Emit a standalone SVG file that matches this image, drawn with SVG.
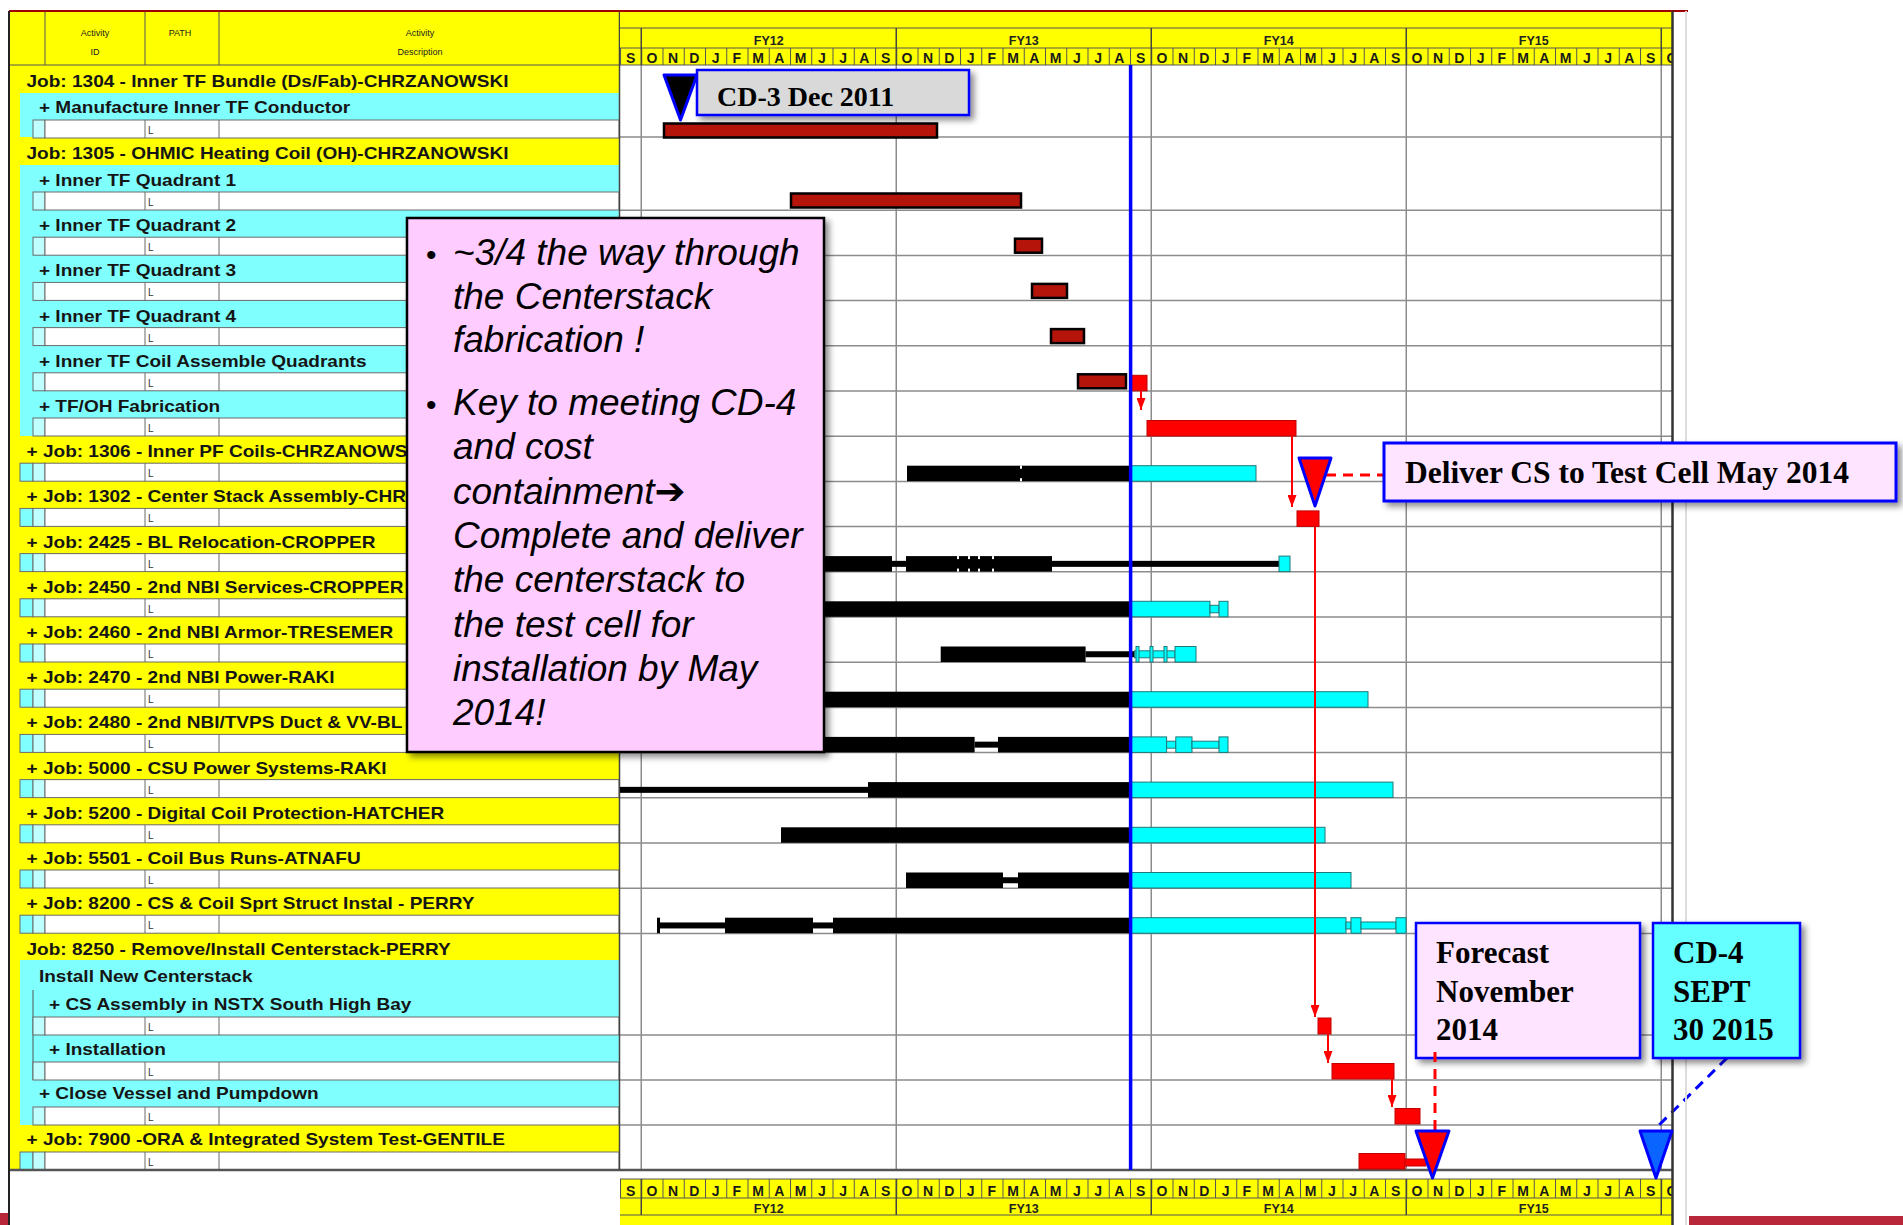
<svg xmlns="http://www.w3.org/2000/svg" width="1903" height="1225" viewBox="0 0 1903 1225">
<defs>
<style>
.lt{font-family:"Liberation Sans",Arial,sans-serif;font-weight:bold;font-size:17px;fill:#151515;transform:scaleX(1.12)}
.hd{font-family:"Liberation Sans",Arial,sans-serif;font-size:9px;fill:#222;text-anchor:middle}
.mo{font-family:"Liberation Sans",Arial,sans-serif;font-weight:bold;font-size:14px;fill:#1a1a1a;text-anchor:middle}
.fy{font-family:"Liberation Sans",Arial,sans-serif;font-weight:bold;font-size:12.5px;fill:#222;text-anchor:middle}
.L{font-family:"Liberation Sans",Arial,sans-serif;font-size:10px;fill:#333}
.sub{fill:#fff;stroke:#6b6b6b;stroke-width:1}
.cyl{fill:#80ffff}
.grid{stroke:#8c8c8c;stroke-width:1.5;fill:none}
.dk{fill:#b5140b;stroke:#000;stroke-width:2.5}
.rd{fill:#ff0000;stroke:#c00000;stroke-width:1}
.bk{fill:#000}
.cy{fill:#00ffff;stroke:#227777;stroke-width:1}
.arr{stroke:#ff0000;stroke-width:2;fill:none;marker-end:url(#ah)}
.call{font-family:"Liberation Serif","Times New Roman",serif;font-weight:bold;fill:#000}
.note{font-family:"Liberation Sans",Arial,"DejaVu Sans",sans-serif;font-style:italic;font-size:37px;fill:#000}
.hl{stroke:#555;stroke-width:1;fill:none}
</style>
<marker id="ah" markerWidth="12" markerHeight="9" refX="12" refY="4.5" orient="auto" markerUnits="userSpaceOnUse"><path d="M0,0 L12,4.5 L0,9 z" fill="#ff0000"/></marker>
<filter id="sh" x="-10%" y="-10%" width="130%" height="140%"><feDropShadow dx="4" dy="4" stdDeviation="3" flood-color="#000" flood-opacity="0.45"/></filter>
<pattern id="mdiv" patternUnits="userSpaceOnUse" x="620" y="0" width="21.25" height="10"><rect x="0" y="0" width="1" height="10" fill="#555"/></pattern>
<clipPath id="hc"><rect x="620" y="0" width="1052" height="1225"/></clipPath>
<g id="sr"><rect x="33" y="0" width="12" height="18" fill="#bfffff" stroke="#6b6b6b" stroke-width="1"/><rect x="45" y="0" width="574" height="18" class="sub"/><path d="M145,0V18M219,0V18" stroke="#6b6b6b"/><text x="148" y="14" class="L">L</text></g>
<g id="srj"><rect x="20" y="0" width="13" height="18" fill="#80ffff" stroke="#6b6b6b" stroke-width="1"/><use href="#sr"/></g>
</defs>
<rect x="0" y="0" width="1903" height="1225" fill="#fff"/>

<!-- left table background and header -->
<g id="table-header">
<rect x="9" y="12" width="610" height="1158" fill="#ffff00"/>
<path d="M45,12V65M145,12V65M219,12V65M9,65H619" class="hl"/>
<text x="95" y="36" class="hd">Activity</text>
<text x="95" y="55" class="hd">ID</text>
<text x="180" y="36" class="hd">PATH</text>
<text x="420" y="36" class="hd">Activity</text>
<text x="420" y="55" class="hd">Description</text>
</g>

<g id="n1304">
<text x="23.7" y="87" class="lt">Job: 1304 - Inner TF Bundle (Ds/Fab)-CHRZANOWSKI</text>
</g>
<g id="n-manufacture">
<rect x="20" y="93" width="599" height="44" class="cyl"/>
<use href="#sr" transform="translate(0,120)"/>
<text x="34.8" y="113" class="lt">+ Manufacture Inner TF Conductor</text>
</g>
<g id="n1305">
<text x="23.7" y="159" class="lt">Job: 1305 - OHMIC Heating Coil (OH)-CHRZANOWSKI</text>
<rect x="20" y="165" width="599" height="271" class="cyl"/>
</g>
<g id="n-q1"><use href="#sr" transform="translate(0,192)"/><text x="34.8" y="186" class="lt">+ Inner TF Quadrant 1</text></g>
<g id="n-q2"><use href="#sr" transform="translate(0,237.2)"/><text x="34.8" y="231.2" class="lt">+ Inner TF Quadrant 2</text></g>
<g id="n-q3"><use href="#sr" transform="translate(0,282.4)"/><text x="34.8" y="276.4" class="lt">+ Inner TF Quadrant 3</text></g>
<g id="n-q4"><use href="#sr" transform="translate(0,327.6)"/><text x="34.8" y="321.6" class="lt">+ Inner TF Quadrant 4</text></g>
<g id="n-coil"><use href="#sr" transform="translate(0,372.8)"/><text x="34.8" y="366.8" class="lt">+ Inner TF Coil Assemble Quadrants</text></g>
<g id="n-tfoh"><use href="#sr" transform="translate(0,418)"/><text x="34.8" y="412" class="lt">+ TF/OH Fabrication</text></g>
<g id="n1306"><use href="#srj" transform="translate(0,463.2)"/><text x="23.7" y="457.2" class="lt">+ Job: 1306 - Inner PF Coils-CHRZANOWS</text></g>
<g id="n1302"><use href="#srj" transform="translate(0,508.4)"/><text x="23.7" y="502.4" class="lt">+ Job: 1302 - Center Stack Assembly-CHR</text></g>
<g id="n2425"><use href="#srj" transform="translate(0,553.6)"/><text x="23.7" y="547.6" class="lt">+ Job: 2425 - BL Relocation-CROPPER</text></g>
<g id="n2450"><use href="#srj" transform="translate(0,598.8)"/><text x="23.7" y="592.8" class="lt">+ Job: 2450 - 2nd NBI Services-CROPPER</text></g>
<g id="n2460"><use href="#srj" transform="translate(0,644)"/><text x="23.7" y="638" class="lt">+ Job: 2460 - 2nd NBI Armor-TRESEMER</text></g>
<g id="n2470"><use href="#srj" transform="translate(0,689.2)"/><text x="23.7" y="683.2" class="lt">+ Job: 2470 - 2nd NBI Power-RAKI</text></g>
<g id="n2480"><use href="#srj" transform="translate(0,734.4)"/><text x="23.7" y="728.4" class="lt">+ Job: 2480 - 2nd NBI/TVPS Duct &amp; VV-BL</text></g>
<g id="n5000"><use href="#srj" transform="translate(0,779.6)"/><text x="23.7" y="773.6" class="lt">+ Job: 5000 - CSU Power Systems-RAKI</text></g>
<g id="n5200"><use href="#srj" transform="translate(0,824.8)"/><text x="23.7" y="818.8" class="lt">+ Job: 5200 - Digital Coil Protection-HATCHER</text></g>
<g id="n5501"><use href="#srj" transform="translate(0,870)"/><text x="23.7" y="864" class="lt">+ Job: 5501 - Coil Bus Runs-ATNAFU</text></g>
<g id="n8200"><use href="#srj" transform="translate(0,915.2)"/><text x="23.7" y="909.2" class="lt">+ Job: 8200 - CS &amp; Coil Sprt Struct Instal - PERRY</text></g>
<g id="n8250">
<text x="23.7" y="955" class="lt">Job: 8250 - Remove/Install Centerstack-PERRY</text>
<rect x="20" y="960" width="599" height="165" class="cyl"/>
<path d="M33,990V1080" class="hl"/>
</g>
<g id="n-installnew"><text x="34.8" y="982" class="lt">Install New Centerstack</text></g>
<g id="n-csassembly"><use href="#sr" transform="translate(0,1017)"/><text x="43.75" y="1010" class="lt">+ CS Assembly in NSTX South High Bay</text></g>
<g id="n-installation"><use href="#sr" transform="translate(0,1062)"/><text x="43.75" y="1055" class="lt">+ Installation</text></g>
<g id="n-closevessel"><use href="#sr" transform="translate(0,1107)"/><text x="34.8" y="1099" class="lt">+ Close Vessel and Pumpdown</text></g>
<g id="n7900"><use href="#srj" transform="translate(0,1152)"/><text x="23.7" y="1145" class="lt">+ Job: 7900 -ORA &amp; Integrated System Test-GENTILE</text></g>

<!-- chart body -->
<g id="chart-body">
<rect x="620" y="65" width="1052" height="1105" fill="#fff"/>
<path class="grid" d="M641.25,65V1170M896.25,65V1170M1151.25,65V1170M1406.25,65V1170M1661.25,65V1170"/>
<path class="grid" d="M620,137H1672M620,210.2H1672M620,255.4H1672M620,300.6H1672M620,345.8H1672M620,391H1672M620,436.2H1672M620,481.4H1672M620,526.6H1672M620,571.8H1672M620,617H1672M620,662.2H1672M620,707.4H1672M620,752.6H1672M620,797.8H1672M620,843H1672M620,888.2H1672M620,933.4H1672M620,1035H1672M620,1080H1672M620,1125H1672"/>
<path d="M9,1170H1672" stroke="#555" stroke-width="2.5"/>
<path d="M619.5,12V1170" stroke="#444" stroke-width="1.5"/>
</g>

<!-- timescale headers -->
<g id="top-scale" clip-path="url(#hc)">
<rect x="620" y="12" width="1052" height="53" fill="#ffff00"/>
<rect x="620" y="48" width="1052" height="17" fill="url(#mdiv)"/>
<path d="M620,28H1672M620,48H1672M620,65H1672" class="hl"/>
<path d="M641.25,28V65M896.25,28V65M1151.25,28V65M1406.25,28V65M1661.25,28V65" stroke="#444" stroke-width="1.5"/>
<text class="fy" x="768.75" y="45">FY12</text><text class="fy" x="1023.75" y="45">FY13</text><text class="fy" x="1278.75" y="45">FY14</text><text class="fy" x="1533.75" y="45">FY15</text>
<text class="mo" y="63" x="630.6 651.9 673.1 694.4 715.6 736.9 758.1 779.4 800.6 821.9 843.1 864.4 885.6 906.9 928.1 949.4 970.6 991.9 1013.1 1034.4 1055.6 1076.9 1098.1 1119.4 1140.6 1161.9 1183.1 1204.4 1225.6 1246.9 1268.1 1289.4 1310.6 1331.9 1353.1 1374.4 1395.6 1416.9 1438.1 1459.4 1480.6 1501.9 1523.1 1544.4 1565.6 1586.9 1608.1 1629.4 1650.6 1671.9">SONDJFMAMJJASONDJFMAMJJASONDJFMAMJJASONDJFMAMJJASO</text>
</g>
<g id="bottom-scale" clip-path="url(#hc)">
<rect x="620" y="1179" width="1052" height="46" fill="#ffff00"/>
<rect x="620" y="1179" width="1052" height="19" fill="url(#mdiv)"/>
<path d="M620,1179H1672M620,1198H1672M620,1215H1672" class="hl"/>
<path d="M641.25,1179V1215M896.25,1179V1215M1151.25,1179V1215M1406.25,1179V1215M1661.25,1179V1215" stroke="#444" stroke-width="1.5"/>
<text class="mo" y="1196" x="630.6 651.9 673.1 694.4 715.6 736.9 758.1 779.4 800.6 821.9 843.1 864.4 885.6 906.9 928.1 949.4 970.6 991.9 1013.1 1034.4 1055.6 1076.9 1098.1 1119.4 1140.6 1161.9 1183.1 1204.4 1225.6 1246.9 1268.1 1289.4 1310.6 1331.9 1353.1 1374.4 1395.6 1416.9 1438.1 1459.4 1480.6 1501.9 1523.1 1544.4 1565.6 1586.9 1608.1 1629.4 1650.6 1671.9">SONDJFMAMJJASONDJFMAMJJASONDJFMAMJJASONDJFMAMJJASO</text>
<text class="fy" x="768.75" y="1213">FY12</text><text class="fy" x="1023.75" y="1213">FY13</text><text class="fy" x="1278.75" y="1213">FY14</text><text class="fy" x="1533.75" y="1213">FY15</text>
</g>

<!-- bars -->
<g id="bars">
<rect class="dk" x="664" y="123.5" width="273" height="14"/>
<rect class="dk" x="791" y="193.5" width="230" height="14"/>
<rect class="dk" x="1015" y="238.7" width="27" height="14"/>
<rect class="dk" x="1032" y="283.9" width="35" height="14"/>
<rect class="dk" x="1051" y="329.1" width="33" height="14"/>
<rect class="dk" x="1078" y="374.3" width="48" height="14"/>
<rect class="rd" x="1130.5" y="375.3" width="16.5" height="15.5"/>
<rect class="rd" x="1147" y="420.5" width="149" height="15.5"/>
<rect class="rd" x="1297" y="510.9" width="22" height="15.5"/>
<rect class="rd" x="1318" y="1018" width="13" height="16"/>
<rect class="rd" x="1332" y="1063.5" width="62" height="15.5"/>
<rect class="rd" x="1395" y="1108.5" width="25" height="15.5"/>
<rect class="rd" x="1359" y="1153.5" width="46" height="15.5"/>
<rect class="rd" x="1405" y="1159" width="21" height="7"/>
<!-- 1306 -->
<rect class="bk" x="907" y="465.7" width="223.6" height="15.5"/>
<rect fill="#fff" x="1020" y="465.7" width="2" height="3"/><rect fill="#fff" x="1020" y="478.2" width="2" height="3"/>
<rect class="cy" x="1130.6" y="465.7" width="125.4" height="15.5"/>
<!-- 2425 -->
<rect class="bk" x="800" y="556.1" width="92" height="15.5"/>
<rect class="bk" x="892" y="560.85" width="14" height="6"/>
<rect class="bk" x="906" y="556.1" width="146" height="15.5"/>
<rect fill="#fff" x="957" y="556.1" width="2" height="3"/><rect fill="#fff" x="957" y="568.6" width="2" height="3"/>
<rect fill="#fff" x="968" y="556.1" width="2" height="3"/><rect fill="#fff" x="968" y="568.6" width="2" height="3"/>
<rect fill="#fff" x="978" y="556.1" width="2" height="3"/><rect fill="#fff" x="978" y="568.6" width="2" height="3"/>
<rect fill="#fff" x="992" y="556.1" width="2" height="3"/><rect fill="#fff" x="992" y="568.6" width="2" height="3"/>
<rect class="bk" x="1052" y="560.85" width="227" height="6"/>
<rect class="cy" x="1279" y="556.1" width="11" height="15.5"/>
<!-- 2450 -->
<rect class="bk" x="800" y="601.3" width="330.6" height="15.5"/>
<rect class="cy" x="1130.6" y="601.3" width="79.4" height="15.5"/>
<rect class="cy" x="1210" y="605.3" width="9" height="7.5"/>
<rect class="cy" x="1219" y="601.3" width="9" height="15.5"/>
<!-- 2460 -->
<rect class="bk" x="940.7" y="646.5" width="144.9" height="15.5"/>
<rect class="bk" x="1085.6" y="651.25" width="48.9" height="6"/>
<rect class="cy" x="1134.5" y="650.8" width="40.5" height="7"/>
<rect class="cy" x="1136" y="646.5" width="3" height="15.5"/><rect class="cy" x="1150" y="646.5" width="3" height="15.5"/><rect class="cy" x="1164" y="646.5" width="3" height="15.5"/>
<rect class="cy" x="1175" y="646.5" width="21" height="15.5"/>
<!-- 2470 -->
<rect class="bk" x="800" y="691.7" width="330.6" height="15.5"/>
<rect class="cy" x="1130.6" y="691.7" width="237.4" height="15.5"/>
<!-- 2480 -->
<rect class="bk" x="800" y="736.9" width="174.6" height="15.5"/>
<rect class="bk" x="974.6" y="741.65" width="23.4" height="6"/>
<rect class="bk" x="998" y="736.9" width="132.6" height="15.5"/>
<rect class="cy" x="1130.6" y="736.9" width="36" height="15.5"/>
<rect class="cy" x="1166.6" y="741.2" width="9.2" height="7"/>
<rect class="cy" x="1175.8" y="736.9" width="16.2" height="15.5"/>
<rect class="cy" x="1192" y="741.2" width="27" height="7"/>
<rect class="cy" x="1219" y="736.9" width="9" height="15.5"/>
<!-- 5000 -->
<rect class="bk" x="620" y="786.85" width="248" height="6"/>
<rect class="bk" x="868" y="782.1" width="262.6" height="15.5"/>
<rect class="cy" x="1130.6" y="782.1" width="262.4" height="15.5"/>
<!-- 5200 -->
<rect class="bk" x="781" y="827.3" width="349.6" height="15.5"/>
<rect class="cy" x="1130.6" y="827.3" width="194.4" height="15.5"/>
<!-- 5501 -->
<rect class="bk" x="906" y="872.5" width="97" height="15.5"/>
<rect class="bk" x="1003" y="877.25" width="15" height="6"/>
<rect class="bk" x="1018" y="872.5" width="112.6" height="15.5"/>
<rect class="cy" x="1130.6" y="872.5" width="220.4" height="15.5"/>
<!-- 8200 -->
<rect class="bk" x="657" y="917.7" width="3" height="15.5"/>
<rect class="bk" x="657" y="922.45" width="68" height="6"/>
<rect class="bk" x="725" y="917.7" width="88" height="15.5"/>
<rect class="bk" x="813" y="922.45" width="20" height="6"/>
<rect class="bk" x="833" y="917.7" width="297.6" height="15.5"/>
<rect class="cy" x="1130.6" y="917.7" width="215.4" height="15.5"/>
<rect class="cy" x="1346" y="922" width="5" height="7"/>
<rect class="cy" x="1351" y="917.7" width="10" height="15.5"/>
<rect class="cy" x="1361" y="922" width="35" height="7"/>
<rect class="cy" x="1396" y="917.7" width="10" height="15.5"/>
</g>

<!-- connectors -->
<g id="connectors">
<path class="arr" d="M1141,391V410"/>
<path class="arr" d="M1292,436V507"/>
<path class="arr" d="M1315,527V1017"/>
<path class="arr" d="M1328,1034V1063"/>
<path class="arr" d="M1392,1079V1107"/>
<path d="M1326,475H1384" stroke="#ff0000" stroke-width="3" stroke-dasharray="10,7" fill="none"/>
<path d="M1727,1058L1656,1128" stroke="#0000ff" stroke-width="3" stroke-dasharray="10,7" fill="none"/>
</g>

<!-- today line -->
<path id="today-line" d="M1130.6,65V1170" stroke="#0000ff" stroke-width="3.5"/>

<!-- frame -->
<g id="frame">
<path d="M9,11H1688" stroke="#a00000" stroke-width="2"/>
<path d="M9,11V1225" stroke="#222" stroke-width="2"/>
<path d="M1672.5,11V1225" stroke="#333" stroke-width="2.5"/>
<path d="M1686,11V1225" stroke="#ddd" stroke-width="2"/>
<rect x="1689" y="1216" width="214" height="9" fill="#b8283a"/>
<rect x="0" y="1213" width="8" height="12" fill="#b8283a"/>
</g>

<!-- callouts -->
<g id="note-box">
<rect x="407" y="218" width="417" height="534" fill="#ffccff" stroke="#000" stroke-width="2.5" filter="url(#sh)"/>
<text x="426" y="265" font-family="Liberation Sans, Arial, sans-serif" font-size="30" fill="#000">•</text>
<text x="426" y="415" font-family="Liberation Sans, Arial, sans-serif" font-size="30" fill="#000">•</text>
<text class="note" x="453" y="265">~3/4 the way through</text>
<text class="note" x="453" y="308.5">the Centerstack</text>
<text class="note" x="453" y="352">fabrication !</text>
<text class="note" x="453" y="415">Key to meeting CD-4</text>
<text class="note" x="453" y="459.3">and cost</text>
<text class="note" x="453" y="503.6">containment➔</text>
<text class="note" x="453" y="548">Complete and deliver</text>
<text class="note" x="453" y="592.3">the centerstack to</text>
<text class="note" x="453" y="636.6">the test cell for</text>
<text class="note" x="453" y="681">installation by May</text>
<text class="note" x="453" y="725.3">2014!</text>
</g>
<g id="cd3">
<polygon points="664,75 697,75 680.5,120" fill="#000" stroke="#0000ff" stroke-width="3" stroke-linejoin="round"/>
<rect x="697" y="70" width="272" height="45" fill="#d9d9d9" stroke="#0000ff" stroke-width="2.5" filter="url(#sh)"/>
<text class="call" x="717" y="106" font-size="28">CD-3 Dec 2011</text>
</g>
<g id="deliver">
<polygon points="1299,458 1331,458 1315,506" fill="#ff0000" stroke="#0000ff" stroke-width="3" stroke-linejoin="round"/>
<rect x="1384" y="443" width="512" height="58" fill="#ffe4ff" stroke="#0000ff" stroke-width="3" filter="url(#sh)"/>
<text class="call" x="1405" y="483" font-size="31.5">Deliver CS to Test Cell May 2014</text>
</g>
<g id="forecast">
<rect x="1416" y="923" width="224" height="135" fill="#ffe4ff" stroke="#0000ff" stroke-width="2.5" filter="url(#sh)"/>
<text class="call" x="1436" y="963" font-size="31">Forecast</text>
<text class="call" x="1436" y="1002" font-size="31">November</text>
<text class="call" x="1436" y="1040" font-size="31">2014</text>
<path d="M1435,1052V1133" stroke="#ff0000" stroke-width="3" stroke-dasharray="10,7" fill="none"/>
<polygon points="1416,1131 1449,1131 1432.5,1178" fill="#ff0000" stroke="#0000ff" stroke-width="3" stroke-linejoin="round"/>
</g>
<g id="cd4">
<rect x="1653" y="923" width="147" height="135" fill="#66ffff" stroke="#0000ff" stroke-width="2.5" filter="url(#sh)"/>
<text class="call" x="1673" y="963" font-size="31">CD-4</text>
<text class="call" x="1673" y="1002" font-size="31">SEPT</text>
<text class="call" x="1673" y="1040" font-size="31">30 2015</text>
<polygon points="1640,1131 1672,1131 1656,1178" fill="#0a64ff" stroke="#0000ff" stroke-width="3" stroke-linejoin="round"/>
</g>
</svg>
